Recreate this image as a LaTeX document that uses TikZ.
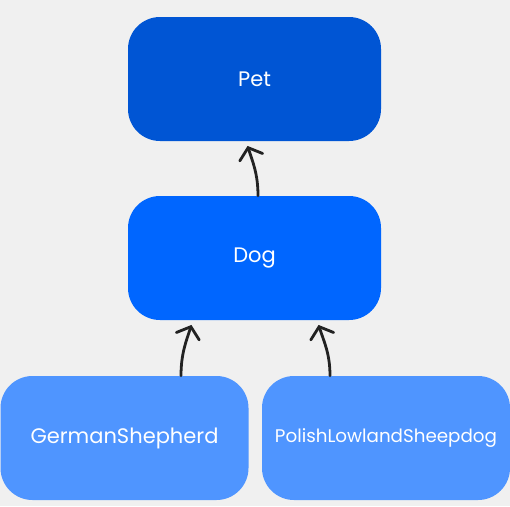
\documentclass[tikz,border=0pt]{standalone}
\usepackage{fontspec}
\setmainfont{Poppins}
\usetikzlibrary{arrows.meta,positioning}
\definecolor{bgcol}{HTML}{F0F0F0}
\definecolor{petcol}{HTML}{0055D4}
\definecolor{dogcol}{HTML}{0066FF}
\definecolor{breedcol}{HTML}{4F95FF}
\definecolor{inkcol}{HTML}{222222}
\begin{document}
\begin{tikzpicture}[x=1pt,y=1pt,
    box/.style={rectangle, rounded corners=32pt, minimum width=253pt, minimum height=124pt,
        text=white, inner sep=0pt, font=\fontsize{21}{25}\selectfont},
    breed/.style={box, minimum width=248pt, fill=breedcol},
    link/.style={draw=inkcol, line width=2.8pt, line cap=round, line join=round,
        -{Straight Barb[length=10pt,width=24pt,line cap=round]}, shorten >=5pt}]
    \fill[bgcol] (0,0) rectangle (510,-506);
    \useasboundingbox (0,0) rectangle (510,-506);
    \node[box, fill=petcol] (pet) at (254.5,-79) {Pet};
    \node[box, fill=dogcol] (dog) at (254.5,-258) {Dog};
    \node[breed] (german) at (124.5,-438) {GermanShepherd};
    \node[breed, font=\fontsize{18.3}{22}\selectfont] (polish) at (386,-438) {PolishLowlandSheepdog};
    \draw[link] ([xshift=3.5pt]dog.north) to[out=90,in=-72] ([xshift=-8.5pt]pet.south);
    \draw[link] ([xshift=56.5pt]german.north) to[out=90,in=-108] ([xshift=-61.5pt]dog.south);
    \draw[link] ([xshift=-56pt]polish.north) to[out=90,in=-72] ([xshift=62.5pt]dog.south);
\end{tikzpicture}
\end{document}
